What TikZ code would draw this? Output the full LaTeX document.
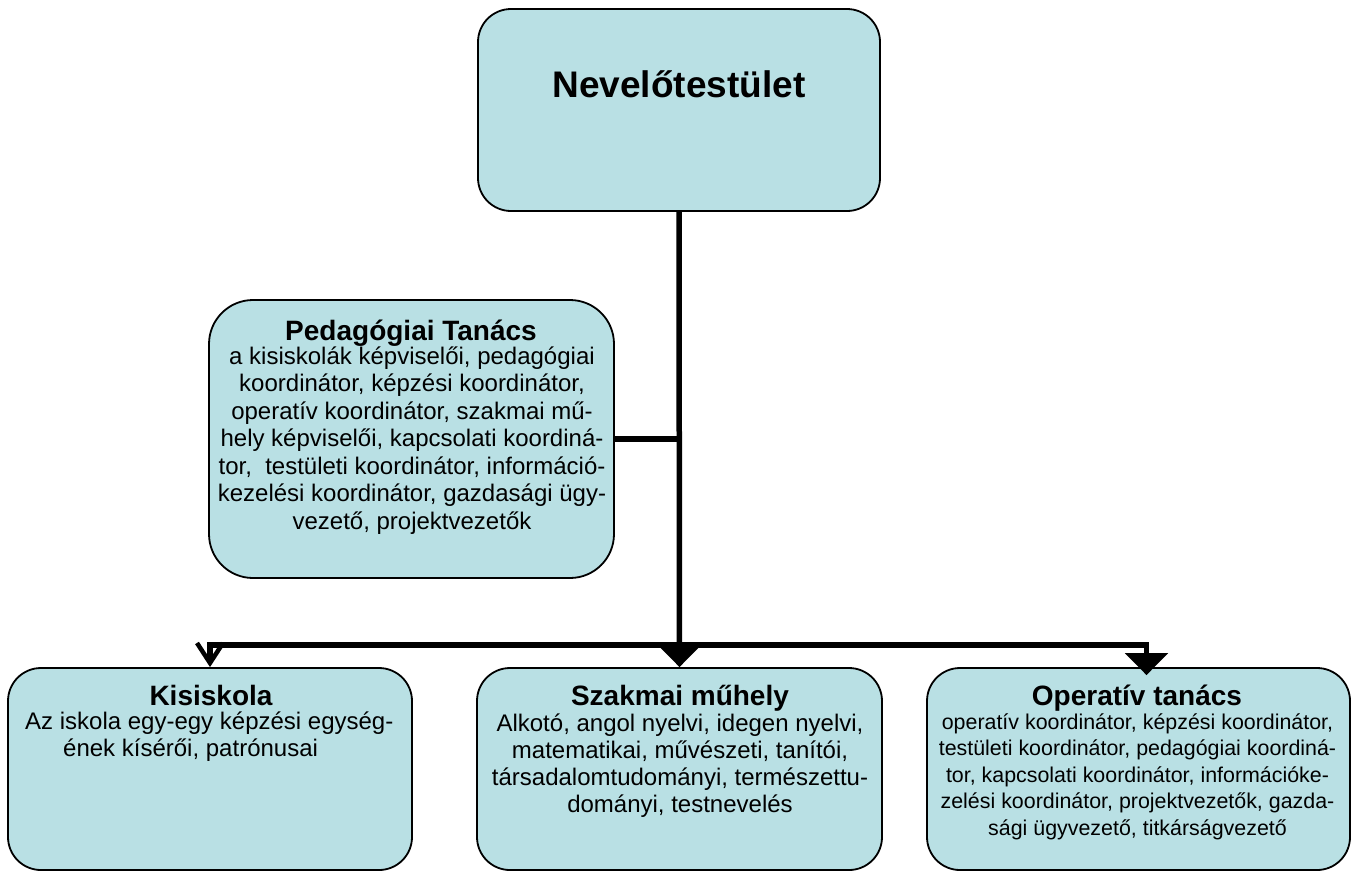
\documentclass[tikz,border=0pt]{standalone}
\usepackage{fontspec}
\setmainfont{Liberation Sans}
\usetikzlibrary{arrows.meta}
\definecolor{boxfill}{RGB}{185,224,228}
\newcommand{\mylines}[1]{\begin{tabular}[t]{@{}c@{}}#1\end{tabular}}
\newcommand{\mylinesl}[1]{\begin{tabular}[t]{@{}l@{}}#1\end{tabular}}
\begin{document}
\begin{tikzpicture}[x=1pt,y=-1pt,
  box/.style={draw=black, line width=1.8pt, fill=boxfill, rounded corners=33pt, inner sep=0pt},
  ttl/.style={font=\bfseries\fontsize{28}{30}\selectfont, anchor=base, inner sep=0pt},
  bodytext/.style={anchor=base, inner sep=0pt, font=\fontsize{24}{27.5}\selectfont},
  conn/.style={line width=5.5pt, draw=black, line join=miter}]
\useasboundingbox (0,0) rectangle (1357,871);
% boxes
\node[box, minimum width=402pt, minimum height=202pt] (nev) at (679,110) {};
\node[box, minimum width=405pt, minimum height=278pt, rounded corners=44pt] (ped) at (411.5,439) {};
\node[box, minimum width=404pt, minimum height=202pt] (kis) at (210,769) {};
\node[box, minimum width=405pt, minimum height=202pt] (sz) at (679.5,769) {};
\node[box, minimum width=423pt, minimum height=202pt] (op) at (1138.5,769) {};
% texts
\node[ttl, font=\bfseries\fontsize{37}{40}\selectfont] (nevt) at (679,97) {Nevelőtestület};
\node[ttl] (pedt) at (411,340) {Pedagógiai Tanács};
\node[bodytext] (pedb) at (412,364) {\mylines{a kisiskolák képviselői, pedagógiai\\
koordinátor, képzési koordinátor,\\
operatív koordinátor, szakmai mű-\\
hely képviselői, kapcsolati koordiná-\\
tor, \ testületi koordinátor, információ-\\
kezelési koordinátor, gazdasági ügy-\\
vezető, projektvezetők}};
\node[ttl] (kist) at (211,705) {Kisiskola};
\node[bodytext, anchor=base west, font=\fontsize{24}{27}\selectfont] (kisb) at (25,729) {\mylinesl{Az iskola egy-egy képzési egység-\\
\hspace*{38pt}ének kísérői, patrónusai}};
\node[ttl] (szt) at (680,705) {Szakmai műhely};
\node[bodytext, font=\fontsize{24}{27}\selectfont] (szb) at (680,731) {\mylines{Alkotó, angol nyelvi, idegen nyelvi,\\
matematikai, művészeti, tanítói,\\
társadalomtudományi, természettu-\\
dományi, testnevelés}};
\node[ttl] (opt) at (1137,705) {Operatív tanács};
\node[bodytext, font=\fontsize{21.4}{26.5}\selectfont] (opb) at (1137.5,729) {\mylines{operatív koordinátor, képzési koordinátor,\\
testületi koordinátor, pedagógiai koordiná-\\
tor, kapcsolati koordinátor, információke-\\
zelési koordinátor, projektvezetők, gazda-\\
sági ügyvezető, titkárságvezető}};
% connectors
\coordinate (j) at (680,645);
\draw[conn, -{Triangle[width=42pt,length=22pt]}] (nev.south) -- (sz.north);
\draw[conn] (ped.east) -- (ped.east -| nev.south);
\draw[conn, -{Straight Barb[width=26pt,length=20pt,line width=4.5pt]}] (j) -| (kis.north);
\draw[conn, -{Triangle[width=42pt,length=22pt]}] (j) -| ([shift={(8,8)}]op.north);
\end{tikzpicture}
\end{document}
